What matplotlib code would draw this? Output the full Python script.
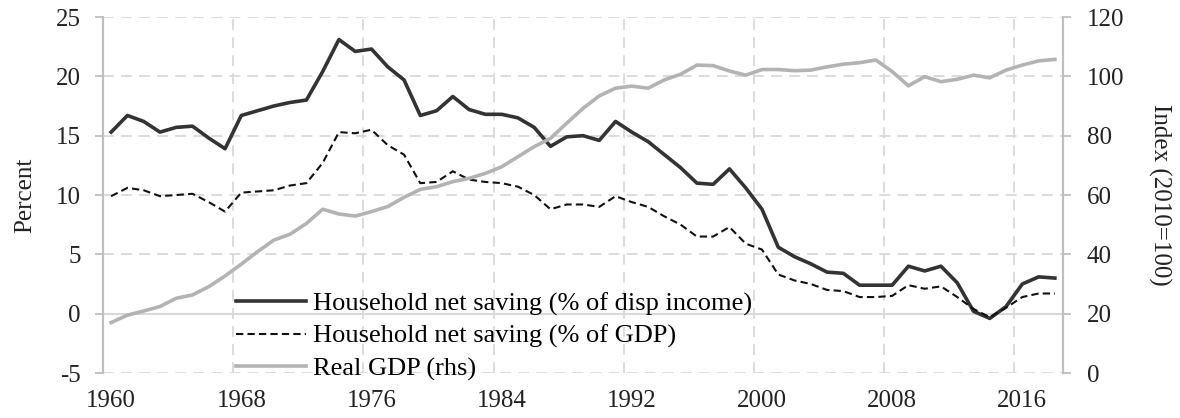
import numpy as np
import matplotlib.pyplot as plt
from matplotlib.ticker import FixedLocator

# data
years = np.arange(1960, 2019)

saving_disp = [15.3, 16.7, 16.2, 15.3, 15.7, 15.8, 14.8, 13.9, 16.7, 17.1,
               17.5, 17.8, 18.0, 20.4, 23.1, 22.1, 22.3, 20.8, 19.7, 16.7,
               17.1, 18.3, 17.2, 16.8, 16.8, 16.5, 15.7, 14.1, 14.9, 15.0,
               14.6, 16.2, 15.3, 14.5, 13.4, 12.3, 11.0, 10.9, 12.2, 10.6,
               8.8, 5.6, 4.8, 4.2, 3.5, 3.4, 2.4, 2.4, 2.4, 4.0,
               3.6, 4.0, 2.6, 0.2, -0.4, 0.6, 2.5, 3.1, 3.0]

saving_gdp = [9.9, 10.6, 10.4, 9.9, 10.0, 10.1, 9.4, 8.6, 10.2, 10.3,
              10.4, 10.8, 11.0, 12.7, 15.3, 15.2, 15.5, 14.2, 13.4, 11.0,
              11.1, 12.0, 11.3, 11.1, 11.0, 10.7, 10.0, 8.8, 9.2, 9.2,
              9.0, 9.9, 9.4, 9.0, 8.2, 7.5, 6.5, 6.5, 7.3, 5.9,
              5.4, 3.3, 2.8, 2.5, 2.0, 1.9, 1.4, 1.4, 1.5, 2.4,
              2.1, 2.3, 1.4, 0.4, -0.3, 0.5, 1.4, 1.7, 1.7]

real_gdp = [17.0, 19.5, 20.9, 22.4, 25.2, 26.3, 29.1, 32.7, 36.7, 40.9,
            44.8, 46.8, 50.4, 55.2, 53.6, 52.9, 54.4, 56.1, 59.2, 61.9,
            62.8, 64.5, 65.6, 67.3, 69.5, 72.9, 76.3, 79.1, 84.2, 89.2,
            93.4, 96.0, 96.7, 96.0, 98.8, 100.7, 103.8, 103.6, 101.8, 100.4,
            102.3, 102.3, 101.9, 102.1, 103.2, 104.1, 104.6, 105.5, 101.6, 96.8,
            99.9, 98.2, 99.0, 100.4, 99.5, 102.1, 103.8, 105.2, 105.7]

x_labels = [1960, 1968, 1976, 1984, 1992, 2000, 2008, 2016]

plt.rcParams['font.family'] = ['Liberation Serif', 'DejaVu Serif']
plt.rcParams['font.size'] = 18
plt.rcParams['axes.unicode_minus'] = False

grid_c = '#d9d9d9'
spine_c = '#bfbfbf'
text_c = '#222222'

fig = plt.figure(figsize=(11.8, 4.18), dpi=100)
ax = fig.add_axes([103 / 1180, 1 - 373 / 418, 960 / 1180, 356 / 418])
ax2 = ax.twinx()

l1, = ax.plot(years, saving_disp, color='#333333', lw=2.6,
              label='Household net saving (% of disp income)')
l2, = ax.plot(years, saving_gdp, color='#111111', lw=1.5, ls=(0, (3.5, 2)),
              label='Household net saving (% of GDP)')
l3, = ax2.plot(years, real_gdp, color='#b3b3b3', lw=2.6,
               label='Real GDP (rhs)')

ax.set_xlim(1959.5, 2018.5)
ax.set_ylim(-5, 25)
ax2.set_ylim(0, 120)
ax.set_yticks(range(-5, 26, 5))
ax2.set_yticks(range(0, 121, 20))
ax.set_xticks(x_labels)

# horizontal grid: dashed, except the zero line which is solid
for v in range(-5, 26, 5):
    if v == 0:
        ax.axhline(v, color=grid_c, lw=1.5, zorder=0.5)
    else:
        ax.axhline(v, color=grid_c, lw=1.3, ls=(0, (6, 4)), zorder=0.5)
ax.xaxis.set_minor_locator(FixedLocator(np.arange(1967.5, 2018, 8)))
ax.grid(which='minor', axis='x', color=grid_c, lw=1.3, ls=(0, (6, 4)))

for a in (ax, ax2):
    a.spines['top'].set_visible(False)
    a.spines['bottom'].set_visible(False)
    a.spines['left'].set_color(spine_c)
    a.spines['right'].set_color(spine_c)
    a.spines['left'].set_linewidth(1.5)
    a.spines['right'].set_linewidth(1.5)

ax.tick_params(axis='x', which='both', length=0, pad=12, colors=text_c)
ax.tick_params(axis='y', length=6, width=1.3, color=spine_c, pad=10,
               labelcolor=text_c)
ax2.tick_params(axis='y', length=6, width=1.3, color=spine_c, pad=11,
                labelcolor=text_c)

ax.set_ylabel('Percent', labelpad=14, color=text_c)
ax2.set_ylabel('Index (2010=100)', rotation=270, labelpad=34, color=text_c)

fig.legend(handles=[l1, l2, l3], loc='upper left',
           bbox_to_anchor=(236 / 1180, 1 - 292 / 418), frameon=False,
           handlelength=2.65, handletextpad=0.27, labelspacing=0.33,
           borderpad=0, borderaxespad=0, fontsize=19)

fig.savefig('out.png', dpi=100)
